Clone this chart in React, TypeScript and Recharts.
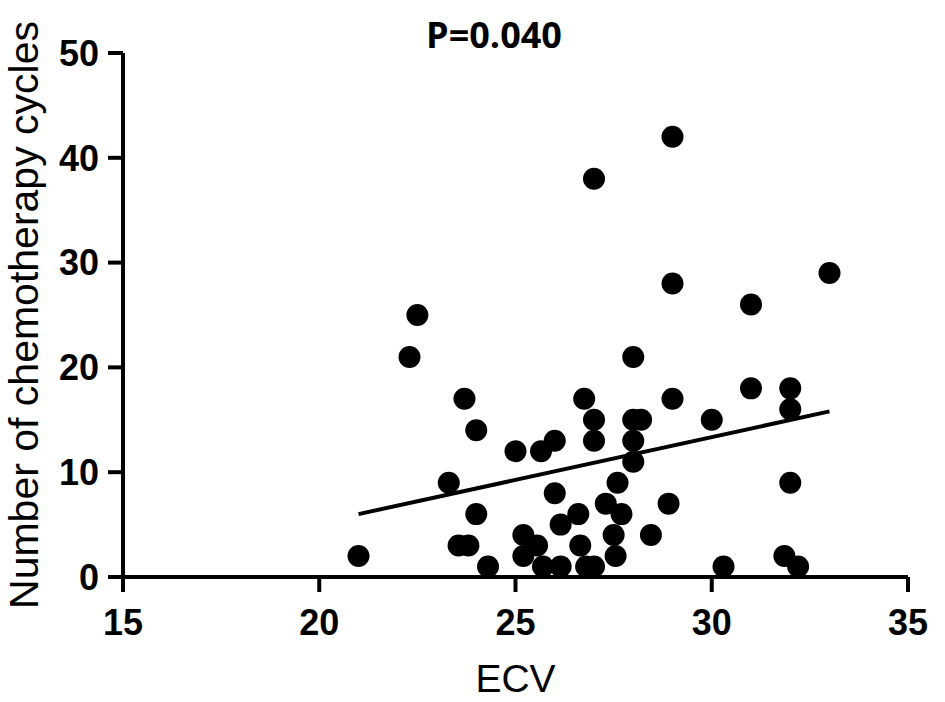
import React from 'react';
import { ScatterChart, Scatter, XAxis, YAxis } from 'recharts';

const ecv = [
  21.0, 22.3, 22.5, 23.3, 23.55, 23.8, 23.7, 24.0, 24.0, 24.3,
  25.0, 25.2, 25.2, 25.55, 25.65, 25.7, 26.0, 26.0, 26.15, 26.15,
  26.6, 26.65, 26.75, 26.8, 27.0, 27.0, 27.0, 27.0, 27.3, 27.5,
  27.55, 27.6, 27.7, 28.0, 28.0, 28.0, 28.2, 28.0, 28.45, 29.0,
  29.0, 29.0, 28.9, 30.0, 30.3, 31.0, 31.0, 32.0, 32.0, 32.0,
  31.85, 32.2, 33.0,
];
const cycles = [
  2, 21, 25, 9, 3, 3, 17, 14, 6, 1,
  12, 4, 2, 3, 12, 1, 13, 8, 5, 1,
  6, 3, 17, 1, 1, 15, 13, 38, 7, 4,
  2, 9, 6, 11, 13, 15, 15, 21, 4, 42,
  28, 17, 7, 15, 1, 26, 18, 18, 16, 9,
  2, 1, 29,
];
const fitEcv = [21, 33];
const fitCycles = [6.0, 15.8];
const xTicks = [15, 20, 25, 30, 35];
const yTicks = [0, 10, 20, 30, 40, 50];
const titleText = 'P=0.040';
const xTitle = 'ECV';
const yTitle = 'Number of chemotherapy cycles';

const points = ecv.map((x, i) => ({ x, y: cycles[i] }));
const fit = fitEcv.map((x, i) => ({ x, y: fitCycles[i] }));

const Dot = (p: any) => <circle cx={p.cx} cy={p.cy} r={11} fill="#000" />;
const NoDot = () => <g />;

const tickFont = {
  fill: '#000',
  fontSize: 36,
  fontWeight: 'bold' as const,
  fontFamily: 'Arial, "Liberation Sans", sans-serif',
};
const lineStyle = { stroke: '#000', strokeWidth: 4 };

export default function App() {
  return (
    <div style={{ position: 'absolute', left: 0, top: 0, width: 945, height: 702, background: '#fff' }}>
      <ScatterChart width={945} height={702} margin={{ top: 53, right: 37, bottom: 0, left: 0 }}>
        <XAxis
          type="number"
          dataKey="x"
          domain={[15, 35]}
          ticks={xTicks}
          interval={0}
          height={125}
          tick={tickFont}
          tickSize={15}
          tickMargin={17}
          tickLine={lineStyle}
          axisLine={lineStyle}
          label={{
            value: xTitle,
            position: 'insideBottom',
            offset: 10,
            fill: '#000',
            fontSize: 39,
            fontFamily: 'Arial, "Liberation Sans", sans-serif',
          }}
        />
        <YAxis
          type="number"
          dataKey="y"
          domain={[0, 50]}
          ticks={yTicks}
          interval={0}
          width={123}
          tick={tickFont}
          tickSize={15}
          tickMargin={9}
          tickLine={lineStyle}
          axisLine={lineStyle}
          label={{
            value: yTitle,
            angle: -90,
            position: 'insideLeft',
            offset: 23,
            fill: '#000',
            fontSize: 41,
            fontFamily: 'Arial, "Liberation Sans", sans-serif',
            style: { textAnchor: 'middle' },
          }}
        />
        <Scatter data={fit} line={lineStyle} shape={NoDot} isAnimationActive={false} />
        <Scatter data={points} shape={Dot} isAnimationActive={false} />
      </ScatterChart>
      <div
        style={{
          position: 'absolute',
          left: 344,
          top: 17,
          width: 300,
          textAlign: 'center',
          fontFamily: '"Open Sans", sans-serif',
          fontWeight: 'bold',
          fontSize: 36,
          lineHeight: '36px',
          color: '#000',
        }}
      >
        {titleText}
      </div>
    </div>
  );
}
